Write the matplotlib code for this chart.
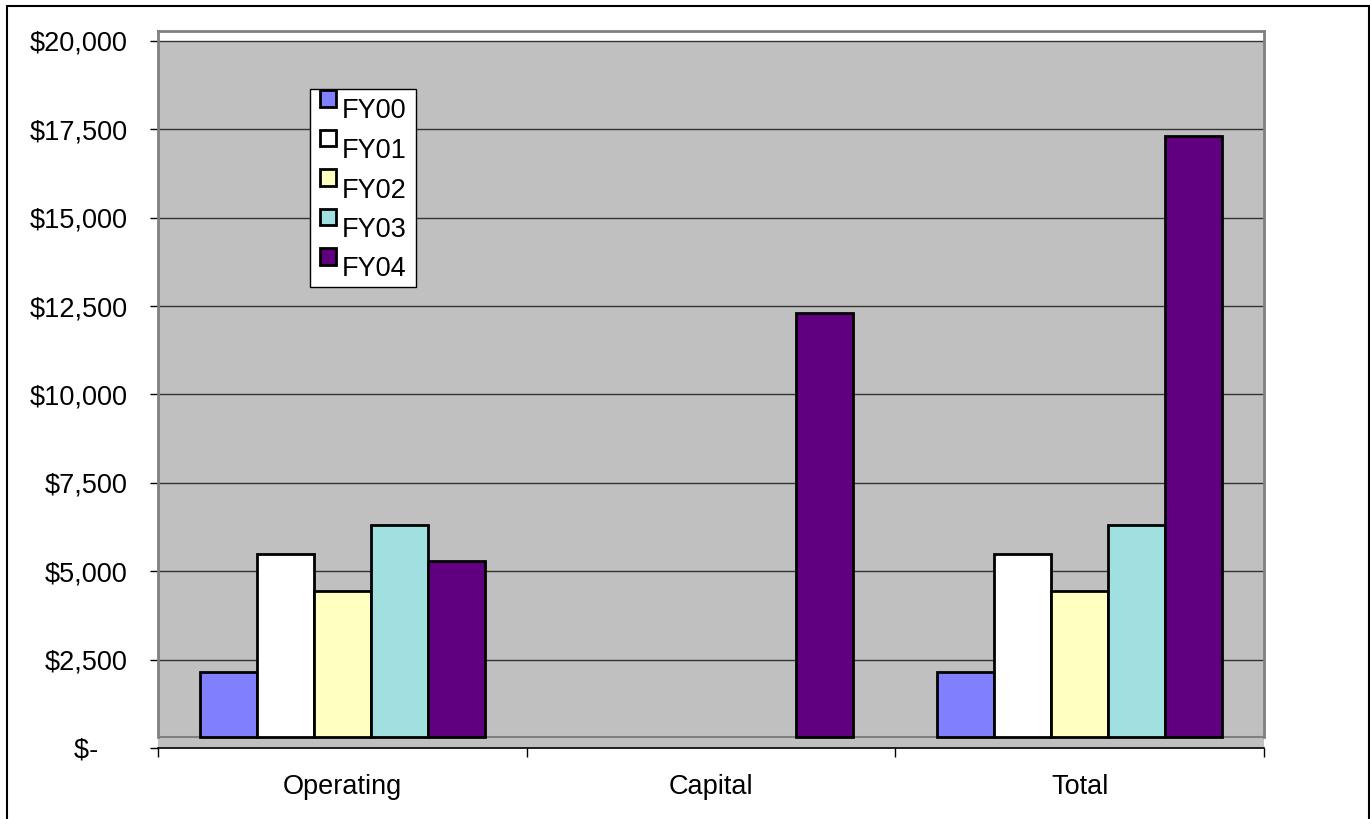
import numpy as np
import matplotlib
matplotlib.use("Agg")
import matplotlib.pyplot as plt
from matplotlib.patches import Rectangle
from matplotlib.ticker import FixedLocator

# ---- data ----
categories = ["Operating", "Capital", "Total"]
series_names = ["FY00", "FY01", "FY02", "FY03", "FY04"]
fy00 = [2150, 0, 2150]
fy01 = [5500, 0, 5500]
fy02 = [4450, 0, 4450]
fy03 = [6300, 0, 6300]
fy04 = [5300, 12300, 17300]
series_values = [fy00, fy01, fy02, fy03, fy04]
y_ticks = [0, 2500, 5000, 7500, 10000, 12500, 15000, 17500, 20000]
y_tick_labels = ["$-", "$2,500", "$5,000", "$7,500", "$10,000", "$12,500",
                 "$15,000", "$17,500", "$20,000"]
colors = ["#8080FF", "#FFFFFF", "#FFFFC0", "#A0E0E0", "#600080"]

# ---- layout ----
W, H = 1370, 819
DPI = 100
FONT = "Liberation Sans"
FS = 19.5
FLOOR = 311          # depth of the pseudo-3D floor (in value units)
WALL_GRAY = "#C0C0C0"

fig = plt.figure(figsize=(W / DPI, H / DPI), dpi=DPI)
fig.patch.set_facecolor("white")

def fx(px):
    return px / W

def fy(py):
    return 1 - py / H

ax_left, ax_right, ax_top, ax_bottom = 158, 1264, 31, 748
ax = fig.add_axes([fx(ax_left), fy(ax_bottom), fx(ax_right - ax_left),
                   (ax_bottom - ax_top) / H])
ax.set_facecolor("white")

scale = (748 - 41) / 20000.0
ymax = 20000 + (41 - ax_top) / scale
ax.set_ylim(0, ymax)
ax.set_xlim(-0.5, len(categories) - 0.5)

# walls / floor
ax.axhspan(0, 20000, color=WALL_GRAY, zorder=0, lw=0)
for t in y_ticks[1:]:
    ax.axhline(t, color="#333333", lw=1.0, zorder=1)
ax.axhline(FLOOR, color="#808080", lw=1.5, zorder=1)

# bars
n = len(series_names)
bw = 0.1543
x = np.arange(len(categories))
for i, (name, vals, c) in enumerate(zip(series_names, series_values, colors)):
    vals = np.asarray(vals, dtype=float)
    mask = vals > 0
    ax.bar(x[mask] + (i - (n - 1) / 2) * bw, vals[mask] - FLOOR, bottom=FLOOR,
           width=bw, color=c, edgecolor="black", linewidth=2.0, zorder=3)

# spines
for s in ["left", "right", "top"]:
    ax.spines[s].set_color("#808080")
    ax.spines[s].set_linewidth(2)
ax.spines["bottom"].set_color("black")
ax.spines["bottom"].set_linewidth(1.2)
ax.spines["left"].set_bounds(FLOOR, ymax)
ax.spines["right"].set_bounds(FLOOR, ymax)

# y ticks
ax.set_yticks(y_ticks)
labels = list(y_tick_labels)
labels[0] = labels[0] + "    "
ax.set_yticklabels(labels, fontsize=FS, fontfamily=FONT)
ax.tick_params(axis="y", direction="out", length=8 * 0.72, width=1, color="black",
               pad=16)

# x ticks: boundaries major, labels minor
ax.xaxis.set_major_locator(FixedLocator(np.arange(len(categories) + 1) - 0.5))
ax.set_xticklabels([])
ax.xaxis.set_minor_locator(FixedLocator(x))
ax.set_xticklabels(categories, minor=True, fontsize=FS, fontfamily=FONT)
ax.tick_params(axis="x", which="major", direction="out", length=9 * 0.72,
               width=1, color="black")
ax.tick_params(axis="x", which="minor", length=0, pad=19)

# legend (manual, Excel style)
lg_left, lg_top, lg_right, lg_bottom = 310, 89, 416, 287
fig.patches.append(Rectangle((fx(lg_left), fy(lg_bottom)),
                             fx(lg_right - lg_left), (lg_bottom - lg_top) / H,
                             transform=fig.transFigure, facecolor="white",
                             edgecolor="black", lw=1, zorder=10))
step = 39.5
for i, (name, c) in enumerate(zip(series_names, colors)):
    sq_top = 90.5 + i * step
    fig.patches.append(Rectangle((fx(320), fy(sq_top + 16)), fx(16), 16 / H,
                                 transform=fig.transFigure, facecolor=c,
                                 edgecolor="black", lw=2, zorder=11))
    fig.text(fx(342), fy(sq_top + 28), name, fontsize=FS, fontfamily=FONT,
             ha="left", va="baseline", zorder=12)

# figure border
fig.patches.append(Rectangle((fx(7), fy(830)), fx(1369 - 7), (830 - 6) / H,
                             transform=fig.transFigure, facecolor="none",
                             edgecolor="black", lw=1.5, zorder=20))

fig.savefig("out.png", dpi=DPI)
